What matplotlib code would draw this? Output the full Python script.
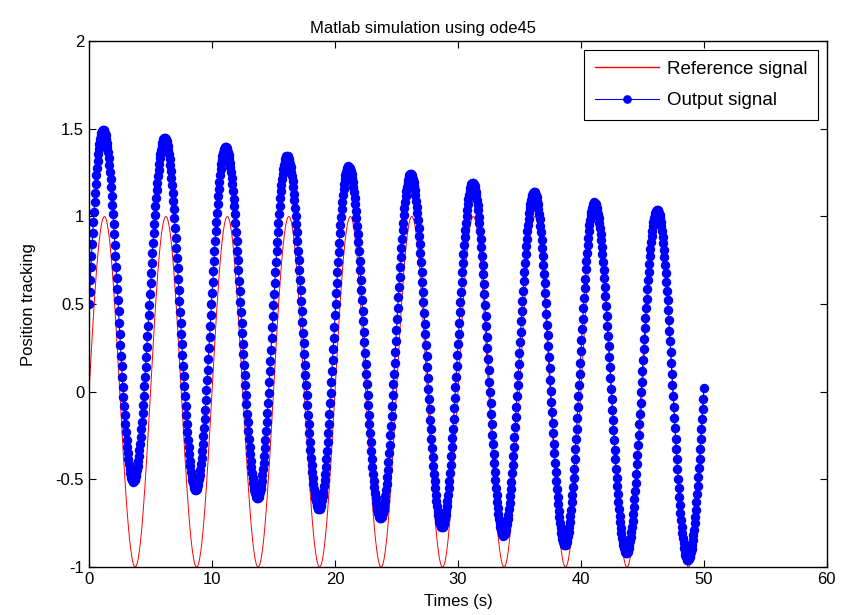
import numpy as np
import matplotlib
matplotlib.use('Agg')
import matplotlib.pyplot as plt

plt.rcParams['font.family'] = ['Liberation Sans', 'DejaVu Sans']

# turning points of the reference input (peaks/troughs, s and value)
ref_ext_t = [-1.25, 1.25, 3.75, 6.25, 8.75, 11.25, 13.75, 16.25, 18.75, 21.25, 23.75,
             26.25, 28.75, 31.25, 33.75, 36.25, 38.75, 41.25, 43.75, 46.25, 48.75, 51.25]
ref_ext_y = [-1, 1, -1, 1, -1, 1, -1, 1, -1, 1, -1,
             1, -1, 1, -1, 1, -1, 1, -1, 1, -1, 1]

# turning points of the simulated output
out_ext_t = [-1.35, 1.15, 3.6, 6.15, 8.67, 11.1, 13.7, 16.1, 18.7, 21.1, 23.7,
             26.15, 28.7, 31.2, 33.7, 36.2, 38.7, 41.1, 43.7, 46.2, 48.7, 51.3]
out_ext_y = [-0.78, 1.495, -0.513, 1.448, -0.560, 1.396, -0.608, 1.345, -0.671, 1.286, -0.722,
             1.242, -0.774, 1.191, -0.822, 1.140, -0.874, 1.080, -0.922, 1.039, -0.960, 1.0]

t = np.linspace(0, 50, 1001)


def through_extrema(t, ext_t, ext_y):
    # half-cosine segment between consecutive turning points
    ext_t = np.asarray(ext_t, float)
    ext_y = np.asarray(ext_y, float)
    k = np.clip(np.searchsorted(ext_t, t) - 1, 0, len(ext_t) - 2)
    s = (t - ext_t[k]) / (ext_t[k + 1] - ext_t[k])
    return ext_y[k] + (ext_y[k + 1] - ext_y[k]) * (1 - np.cos(np.pi * s)) / 2


ref = through_extrema(t, ref_ext_t, ref_ext_y)
out = through_extrema(t, out_ext_t, out_ext_y)

fig = plt.figure(figsize=(8.48, 6.15), dpi=100)
ax = fig.add_axes([0.105, 0.078, 0.87, 0.855])

ax.plot(t, ref, color='red', lw=0.7, label='Reference signal')
ax.plot(t, out, color='blue', lw=0.8, marker='o', ms=5.8, mec='blue', mfc='blue',
        label='Output signal')

ax.set_xlim(0, 60)
ax.set_ylim(-1, 2)
ax.set_xticks(np.arange(0, 61, 10))
ax.set_yticks(np.arange(-1, 2.01, 0.5))
ax.set_yticklabels(['-1', '-0.5', '0', '0.5', '1', '1.5', '2'])
ax.tick_params(direction='in', top=True, right=True, labelsize=12, length=5, width=0.8)
for sp in ax.spines.values():
    sp.set_linewidth(1.0)

ax.set_title('Matlab simulation using ode45', fontsize=12, x=0.453)
ax.set_xlabel('Times (s)', fontsize=12, labelpad=5)
ax.set_ylabel('Position tracking', fontsize=12, labelpad=14)

leg = ax.legend(loc='upper right', fontsize=13.5, fancybox=False, framealpha=1,
                edgecolor='black', borderaxespad=0.45, handlelength=3.4,
                handletextpad=0.4, labelspacing=0.75, borderpad=0.6, markerscale=0.9)
leg.get_frame().set_linewidth(0.8)
leg.get_lines()[0].set_linewidth(1.0)

fig.savefig('out.png', dpi=100)
